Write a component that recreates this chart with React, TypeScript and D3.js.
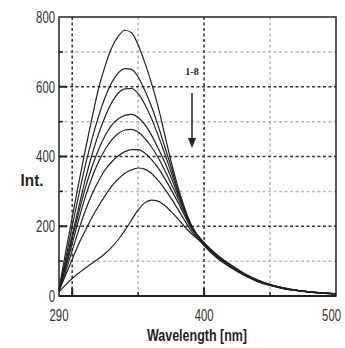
import React from 'react';
import * as d3 from 'd3';

// emission spectra, 8 curves (1 = top, 8 = bottom)
const wavelengths = [290, 295, 300, 305, 310, 315, 320, 325, 330, 335, 340, 345, 350, 355, 360, 365, 370, 375, 380, 385, 390, 400, 410, 420, 430, 440, 450, 460, 470, 480, 490, 500];
const curve1 = [20, 125, 225, 325, 420, 510, 595, 660, 712, 745, 762, 755, 720, 670, 612, 545, 465, 385, 315, 255, 205, 145, 108, 82, 60, 42, 30, 21, 15, 11, 8, 6];
const curve2 = [18, 105, 200, 290, 375, 450, 515, 570, 612, 640, 652, 650, 628, 590, 545, 490, 430, 370, 305, 250, 205, 150, 112, 85, 62, 44, 31, 22, 16, 11, 8, 6];
const curve3 = [18, 95, 175, 255, 335, 405, 465, 515, 555, 582, 594, 595, 580, 550, 510, 462, 410, 355, 300, 248, 205, 152, 114, 86, 63, 45, 31, 22, 16, 11, 8, 6];
const curve4 = [17, 85, 165, 240, 310, 370, 420, 460, 490, 508, 518, 521, 512, 492, 462, 425, 385, 340, 292, 245, 202, 152, 115, 87, 63, 45, 32, 22, 16, 12, 8, 6];
const curve5 = [16, 80, 150, 220, 285, 340, 385, 420, 448, 466, 476, 478, 470, 452, 428, 398, 362, 322, 282, 240, 200, 153, 116, 88, 64, 46, 32, 23, 16, 12, 9, 6];
const curve6 = [15, 70, 130, 190, 245, 292, 330, 362, 385, 402, 414, 420, 420, 410, 392, 368, 338, 305, 270, 232, 196, 150, 115, 88, 64, 46, 32, 23, 16, 12, 9, 6];
const curve7 = [14, 60, 105, 150, 188, 225, 258, 288, 315, 336, 352, 362, 367, 364, 352, 332, 308, 280, 250, 218, 188, 145, 112, 86, 63, 45, 32, 23, 16, 12, 9, 6];
const curve8 = [12, 32, 50, 66, 80, 94, 107, 122, 140, 162, 188, 218, 247, 267, 275, 272, 260, 242, 222, 200, 180, 150, 118, 90, 66, 47, 33, 24, 17, 12, 9, 7];
const allCurves = [curve1, curve2, curve3, curve4, curve5, curve6, curve7, curve8];

const yTickLabels = [0, 200, 400, 600, 800];
const xTickLabels = [290, 400, 500];
const majorX = [300, 400];
const minorX = [350, 450];
const majorY = [200, 400, 600];
const minorY = [100, 300, 500, 700];

const W = 345;
const H = 348;
const left = 59, right = 336, top = 17, bottom = 296;
const narrow = "'Liberation Sans Narrow', 'Liberation Sans', Arial, sans-serif";
const squeeze = 0.71;

export default function App() {
  const x = d3.scaleLinear().domain([290, 500]).range([left, right]);
  const y = d3.scaleLinear().domain([0, 800]).range([bottom, top]);
  const line = d3.line<number>()
    .x((d, i) => x(wavelengths[i]))
    .y(d => y(d))
    .curve(d3.curveMonotoneX);

  return (
    <svg width={W} height={H} style={{ position: 'absolute', left: 0, top: 0, background: '#fff' }}>
      {/* grid */}
      {minorY.map(v => (
        <line key={'gy' + v} x1={left} x2={right} y1={y(v)} y2={y(v)} stroke="#b8b8b8" strokeWidth={1.5} strokeDasharray="3,2.5" />
      ))}
      {minorX.map(v => (
        <line key={'gx' + v} x1={x(v)} x2={x(v)} y1={top} y2={bottom} stroke="#b8b8b8" strokeWidth={1.5} strokeDasharray="3,2.5" />
      ))}
      {majorY.map(v => (
        <line key={'My' + v} x1={left} x2={right} y1={y(v)} y2={y(v)} stroke="#333" strokeWidth={1.5} strokeDasharray="3,2.5" />
      ))}
      {majorX.map(v => (
        <line key={'Mx' + v} x1={x(v)} x2={x(v)} y1={top} y2={bottom} stroke="#333" strokeWidth={1.5} strokeDasharray="3,2.5" />
      ))}

      {/* spectra */}
      {allCurves.map((c, i) => (
        <path key={'c' + i} d={line(c) || ''} fill="none" stroke="#222" strokeWidth={1.2} />
      ))}

      {/* frame and ticks */}
      <rect x={left} y={top} width={right - left} height={bottom - top} fill="none" stroke="#222" strokeWidth={1.5} />
      <line x1={left} x2={right} y1={bottom} y2={bottom} stroke="#222" strokeWidth={2.2} />
      {majorY.map(v => <line key={'ty' + v} x1={left} x2={left + 8} y1={y(v)} y2={y(v)} stroke="#222" strokeWidth={2} />)}
      {minorY.map(v => <line key={'tmy' + v} x1={left} x2={left + 4} y1={y(v)} y2={y(v)} stroke="#222" strokeWidth={1.5} />)}
      {majorX.map(v => <line key={'tx' + v} x1={x(v)} x2={x(v)} y1={bottom} y2={bottom - 8} stroke="#222" strokeWidth={2} />)}
      {minorX.map(v => <line key={'tmx' + v} x1={x(v)} x2={x(v)} y1={bottom} y2={bottom - 4} stroke="#222" strokeWidth={1.5} />)}

      {/* tick labels (narrowed) */}
      {yTickLabels.map(v => (
        <text key={'ly' + v} transform={`translate(${left - 4},${y(v)}) scale(${squeeze},1)`} dy="0.36em" textAnchor="end"
          fontFamily={narrow} fontSize={16} fill="#333">{v}</text>
      ))}
      {xTickLabels.map(v => (
        <text key={'lx' + v} transform={`translate(${v === 500 ? 341 : x(v)},321) scale(${squeeze},1)`}
          textAnchor={v === 500 ? 'end' : 'middle'} fontFamily={narrow} fontSize={16} fill="#333">{v}</text>
      ))}

      {/* axis titles */}
      <text x={197} y={341} textAnchor="middle" fontFamily={narrow} fontWeight="bold" fontSize={16} fill="#222"
        textLength={100} lengthAdjust="spacingAndGlyphs">Wavelength [nm]</text>
      <text x={32} y={186} textAnchor="middle" fontFamily={narrow} fontWeight="bold" fontSize={16} fill="#222"
        textLength={23} lengthAdjust="spacingAndGlyphs">Int.</text>

      {/* annotation */}
      <text x={192} y={75} textAnchor="middle" fontFamily="'Liberation Serif', serif" fontWeight="bold" fontSize={10} fill="#222">1-8</text>
      <line x1={192} x2={192} y1={93} y2={140} stroke="#222" strokeWidth={1.5} />
      <path d="M188,138 L196,138 L192,148 Z" fill="#222" />
    </svg>
  );
}
